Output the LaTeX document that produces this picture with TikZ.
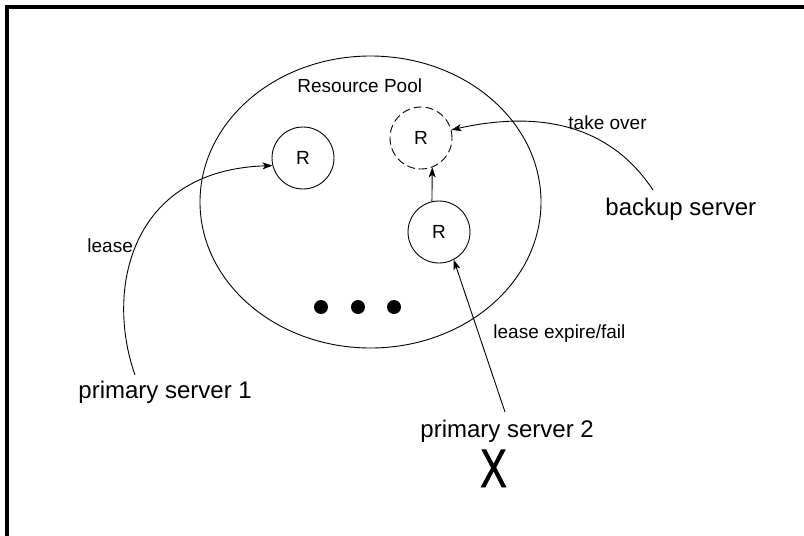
\documentclass[tikz,border=0pt]{standalone}
\usepackage{fontspec}
\setmainfont{Liberation Sans}
\newfontface\xfont{Liberation Sans}[FakeBold=1.3]
\usetikzlibrary{arrows.meta,shapes.geometric}
\begin{document}
\begin{tikzpicture}[x=1pt,y=-1pt,
  line width=0.9pt,
  res/.style={draw, circle, minimum size=62pt, inner sep=0pt, font=\fontsize{19}{19}\selectfont},
  small/.style={font=\fontsize{19}{19}\selectfont, inner sep=0pt, anchor=base west},
  big/.style={font=\fontsize{24}{24}\selectfont, inner sep=0pt, anchor=base west},
  arr/.style={-{Stealth[length=10pt,width=7pt,inset=2.5pt]}},
  dot/.style={fill=black}]
\useasboundingbox (0,0) rectangle (804,536);
\fill[white] (0,0) rectangle (804,536);
% frame
\draw[line width=3.5pt, line join=miter] (7,540) -- (7,7) -- (808,7);
% pool
\node[draw, ellipse, minimum width=341pt, minimum height=292pt, inner sep=0pt] (pool) at (370.5,202) {};
\node[small] (pooltxt) at (297,92.7) {Resource Pool};
% resources
\node[res] (R1) at (303,158) {R};
\node[res, dash pattern=on 8pt off 4pt] (R2) at (421,138) {R};
\node[res] (R3) at (439,232) {R};
% dots
\fill[dot] (321,307) circle (7);
\fill[dot] (358,307) circle (7);
\fill[dot] (394,307) circle (7);
% labels
\node[small] (lease) at (87,252) {lease};
\node[small] (take) at (568,129) {take over};
\node[small] (expire) at (493,338) {lease expire/fail};
\node[big] (ps1) at (78,398) {primary server 1};
\node[big] (ps2) at (420,437) {primary server 2};
\node[big] (bs) at (605,215) {backup server};
\node[font=\fontsize{54}{54}\xfont, inner sep=0pt, anchor=base] (X) at (493.5,487) {\scalebox{0.74}[1]{X}};
% connectors
\coordinate (c1) at (135,375);
\coordinate (c2) at (505,412);
\coordinate (c3) at (653,190);
\draw[arr] (c1) .. controls (105,290) and (130,170) .. (R1.194);
\draw[arr] (c2) -- (R3.298);
\draw[arr] (c3) .. controls (610,125) and (540,110) .. (R2.15);
\draw[arr] (R3.103) -- (R2.291);
\end{tikzpicture}
\end{document}
